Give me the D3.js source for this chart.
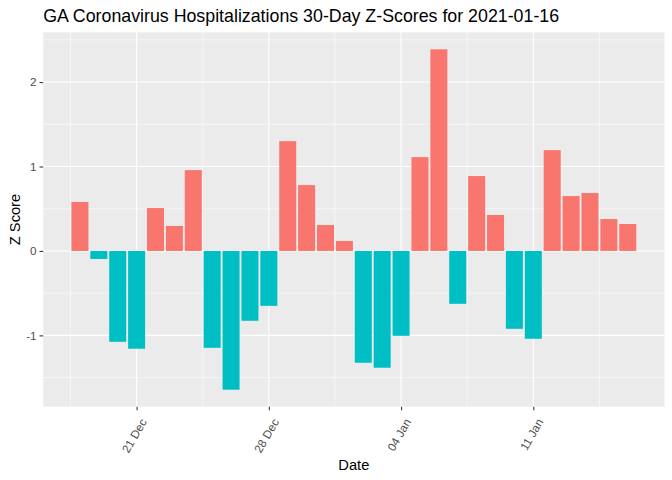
<!DOCTYPE html>
<html>
<head>
<meta charset="utf-8">
<script src="https://cdn.jsdelivr.net/npm/d3@7/dist/d3.min.js"></script>
<style>
  html, body { margin: 0; padding: 0; background: #ffffff; }
  svg { display: block; font-family: "Liberation Sans", Arial, sans-serif; }
</style>
</head>
<body>
<svg id="chart" width="672" height="480"></svg>
<script>
// ---- data ----
const dates = ["2020-12-18","2020-12-19","2020-12-20","2020-12-21","2020-12-22","2020-12-23",
  "2020-12-24","2020-12-25","2020-12-26","2020-12-27","2020-12-28","2020-12-29","2020-12-30",
  "2020-12-31","2021-01-01","2021-01-02","2021-01-03","2021-01-04","2021-01-05","2021-01-06",
  "2021-01-07","2021-01-08","2021-01-09","2021-01-10","2021-01-11","2021-01-12","2021-01-13",
  "2021-01-14","2021-01-15","2021-01-16"];
const zScores = [0.58, -0.095, -1.076, -1.158, 0.508, 0.296, 0.957, -1.147, -1.643, -0.827,
  -0.650, 1.300, 0.780, 0.307, 0.118, -1.324, -1.383, -1.005, 1.111, 2.388, -0.626, 0.887,
  0.426, -0.922, -1.040, 1.194, 0.650, 0.686, 0.378, 0.319];
const xTickDates = ["2020-12-21","2020-12-28","2021-01-04","2021-01-11"];
const yTicks = [-1, 0, 1, 2];
const titleText = "GA Coronavirus Hospitalizations 30-Day Z-Scores for 2021-01-16";
const xTitle = "Date";
const yTitle = "Z Score";
const posColor = "#F8766D", negColor = "#00BFC4";

// ---- layout ----
const svg = d3.select("#chart");
const P = { left: 43.2, right: 664.5, top: 32.3, bottom: 406.7 };
const DAY = 86400000;
const parse = d3.utcParse("%Y-%m-%d");
const data = dates.map((d, i) => ({ date: parse(d), v: zScores[i] }));

const dMin = d3.min(data, d => +d.date) - 0.45 * DAY;
const dMax = d3.max(data, d => +d.date) + 0.45 * DAY;
const xPad = (dMax - dMin) * 0.05;
const x = d3.scaleUtc().domain([new Date(dMin - xPad), new Date(dMax + xPad)]).range([P.left, P.right]);

const vMin = Math.min(0, d3.min(zScores)), vMax = Math.max(0, d3.max(zScores));
const yPad = (vMax - vMin) * 0.05;
const y = d3.scaleLinear().domain([vMin - yPad, vMax + yPad]).range([P.bottom, P.top]);

// panel
svg.append("rect").attr("x", P.left).attr("y", P.top)
  .attr("width", P.right - P.left).attr("height", P.bottom - P.top).attr("fill", "#EBEBEB");

const g = svg.append("g");
// minor grid y
const yMinor = [];
for (let t = Math.ceil((y.domain()[0]) * 2) / 2; t <= y.domain()[1]; t += 0.5) {
  if (Math.abs(t - Math.round(t)) > 0.01) yMinor.push(t);
}
g.selectAll(".ymin").data(yMinor).join("line")
  .attr("x1", P.left).attr("x2", P.right)
  .attr("y1", d => y(d)).attr("y2", d => y(d))
  .attr("stroke", "#fff").attr("stroke-width", 0.53);

// minor grid x (midpoints between weekly breaks)
const xTicks = xTickDates.map(parse);
const xMinor = [];
for (let k = -1; k < xTicks.length; k++) {
  const t = +xTicks[0] + (k + 0.5) * 7 * DAY;
  if (t >= +x.domain()[0] && t <= +x.domain()[1]) xMinor.push(new Date(t));
}
g.selectAll(".xmin").data(xMinor).join("line")
  .attr("y1", P.top).attr("y2", P.bottom)
  .attr("x1", d => x(d)).attr("x2", d => x(d))
  .attr("stroke", "#fff").attr("stroke-width", 0.53);

// major grid
g.selectAll(".ymaj").data(yTicks).join("line")
  .attr("x1", P.left).attr("x2", P.right)
  .attr("y1", d => y(d)).attr("y2", d => y(d))
  .attr("stroke", "#fff").attr("stroke-width", 1.07);
g.selectAll(".xmaj").data(xTicks).join("line")
  .attr("y1", P.top).attr("y2", P.bottom)
  .attr("x1", d => x(d)).attr("x2", d => x(d))
  .attr("stroke", "#fff").attr("stroke-width", 1.07);

// bars
const bw = x(new Date(+data[0].date + 0.45 * DAY)) - x(new Date(+data[0].date - 0.45 * DAY));
svg.append("g").selectAll("rect").data(data).join("rect")
  .attr("x", d => x(new Date(+d.date - 0.45 * DAY)))
  .attr("width", bw)
  .attr("y", d => y(Math.max(0, d.v)))
  .attr("height", d => Math.abs(y(d.v) - y(0)))
  .attr("fill", d => d.v >= 0 ? posColor : negColor);

// y axis
const yAxis = d3.axisLeft(y).tickValues(yTicks).tickSize(3.67).tickPadding(3).tickFormat(d => String(d));
const ya = svg.append("g").attr("transform", `translate(${P.left},0)`).call(yAxis);
ya.select(".domain").remove();
ya.selectAll(".tick line").attr("stroke", "#333333").attr("stroke-width", 1.07);
ya.selectAll(".tick text").attr("fill", "#4D4D4D").style("font-size", "11.7px")
  .style("font-family", "'Liberation Sans', Arial, sans-serif");

// x axis
const xAxis = d3.axisBottom(x).tickValues(xTicks).tickSize(3.67).tickFormat(d3.utcFormat("%d %b"));
const xa = svg.append("g").attr("transform", `translate(0,${P.bottom})`).call(xAxis);
xa.select(".domain").remove();
xa.selectAll(".tick line").attr("stroke", "#333333").attr("stroke-width", 1.07);
xa.selectAll(".tick text").attr("fill", "#4D4D4D").style("font-size", "11.7px")
  .style("font-family", "'Liberation Sans', Arial, sans-serif")
  .attr("text-anchor", "end").attr("dy", null).attr("y", null)
  .attr("transform", "translate(10,15) rotate(-60)");

// titles
svg.append("text").attr("x", P.left).attr("y", 21.7)
  .attr("fill", "#000").style("font-size", "17.8px").text(titleText);
svg.append("text").attr("x", (P.left + P.right) / 2).attr("y", 470)
  .attr("text-anchor", "middle").attr("fill", "#000").style("font-size", "14.67px").text(xTitle);
svg.append("text").attr("transform", `translate(19.5,${(P.top + P.bottom) / 2}) rotate(-90)`)
  .attr("text-anchor", "middle").attr("fill", "#000").style("font-size", "14.67px").text(yTitle);
</script>
</body>
</html>
